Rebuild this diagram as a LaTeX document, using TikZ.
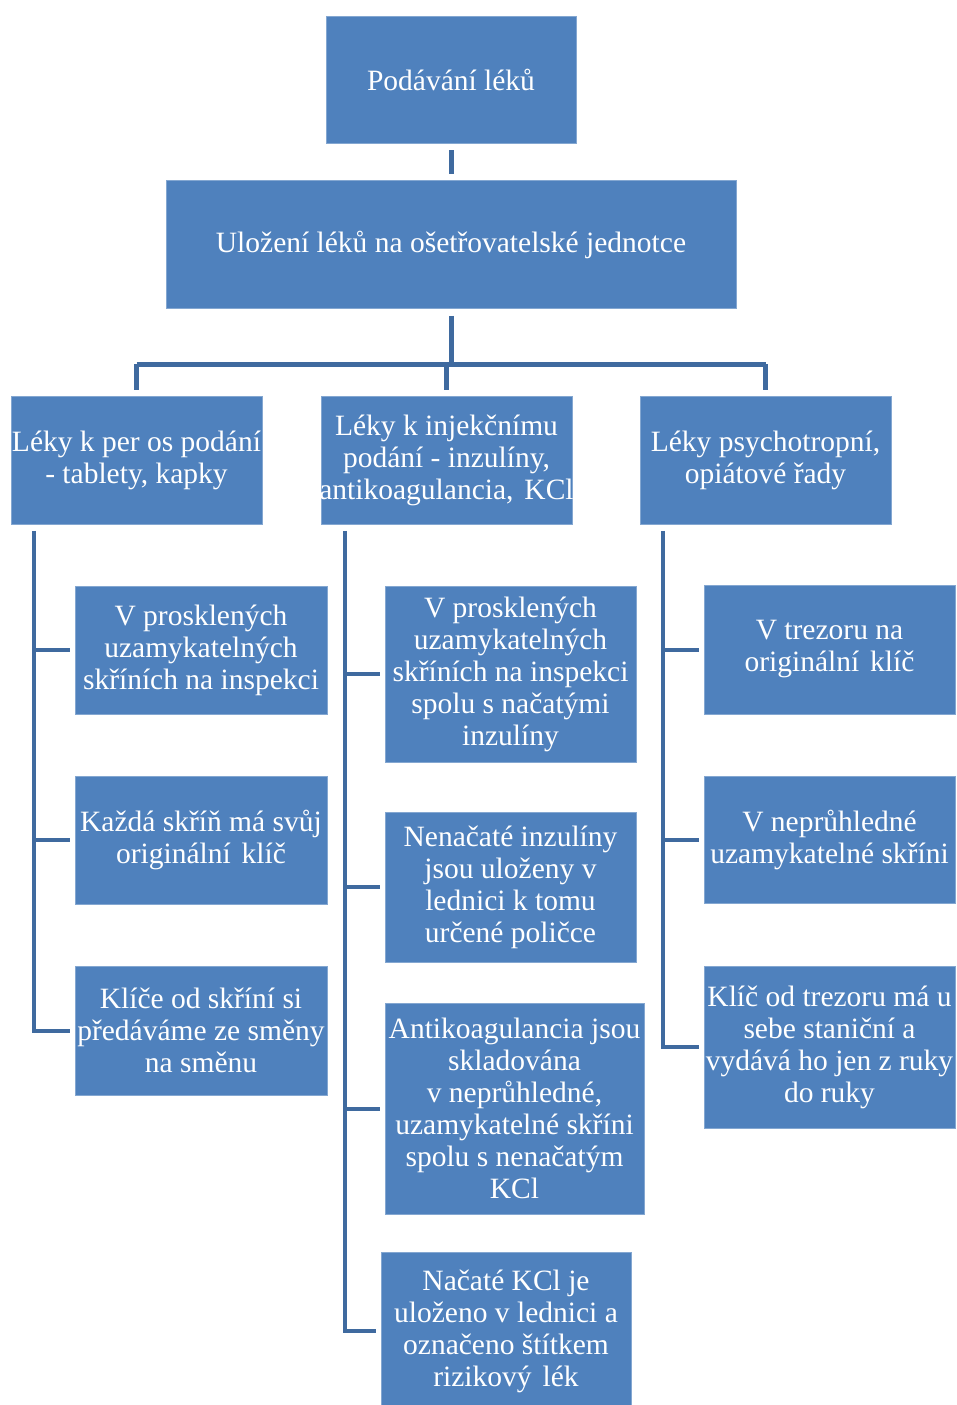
\documentclass[tikz,border=0pt]{standalone}
\usepackage{fontspec}
\setmainfont{Liberation Serif}
\definecolor{boxblue}{HTML}{4F81BD}
\definecolor{linkblue}{HTML}{3F6A9F}
% centre a line on its node without letting it widen the box
\newcommand\ctr[1]{\makebox[0pt]{#1}}
% slightly wider word gap
\newcommand\wsp{\ \hspace{0.12em}}
\tikzset{
  box/.style={rectangle, fill=boxblue, draw=boxblue!70!white, line width=0.8pt,
    inner sep=0pt, align=center, text=white,
    font=\fontsize{29.5}{32}\selectfont},
  trunk/.style={draw=linkblue, line width=5pt},
  twig/.style={draw=linkblue, line width=4pt, line join=miter},
}
\begin{document}
\begin{tikzpicture}[x=1pt, y=-1pt]
\fill[white] (0,0) rectangle (957,1405);
\useasboundingbox (0,0) rectangle (957,1405);
\begin{scope}
\clip (0,0) rectangle (957,1405);

% main levels
\node[box, minimum width=250, minimum height=127] (top) at (451,79.5) {\ctr{Podávání léků}};
\node[box, minimum width=570, minimum height=128] (unit) at (451,244.5) {\ctr{Uložení léků na ošetřovatelské jednotce}};

\node[box, minimum width=251, minimum height=128] (L) at (136.5,460.5)
  {\ctr{Léky k per os podání}\\\ctr{- tablety, kapky}};
\node[box, minimum width=251, minimum height=128] (M) at (446.5,460.5)
  {\ctr{Léky k injekčnímu}\\\ctr{podání - inzulíny,}\\\ctr{antikoagulancia,\wsp KCl}};
\node[box, minimum width=251, minimum height=128] (R) at (765.5,460.5)
  {\ctr{Léky psychotropní,}\\\ctr{opiátové řady}};

% left column
\node[box, minimum width=252, minimum height=128] (L1) at (201,650)
  {\ctr{V prosklených}\\\ctr{uzamykatelných}\\\ctr{skříních na inspekci}};
\node[box, minimum width=252, minimum height=128] (L2) at (201,840)
  {\ctr{Každá skříň má svůj}\\\ctr{originální\wsp klíč}};
\node[box, minimum width=252, minimum height=129] (L3) at (201,1030.5)
  {\ctr{Klíče od skříní si}\\\ctr{předáváme ze směny}\\\ctr{na směnu}};

% middle column
\node[box, minimum width=251, minimum height=176] (M1) at (510.5,674)
  {\ctr{V prosklených}\\\ctr{uzamykatelných}\\\ctr{skříních na inspekci}\\\ctr{spolu s načatými}\\\ctr{inzulíny}};
\node[box, minimum width=251, minimum height=150] (M2) at (510.5,887)
  {\ctr{Nenačaté inzulíny}\\\ctr{jsou uloženy v}\\\ctr{lednici k tomu}\\\ctr{určené poličce}};
\node[box, minimum width=259, minimum height=211] (M3) at (514.5,1108.5)
  {\ctr{Antikoagulancia jsou}\\\ctr{skladována}\\\ctr{v neprůhledné,}\\\ctr{uzamykatelné skříni}\\\ctr{spolu s nenačatým}\\\ctr{KCl}};
\node[box, minimum width=250, minimum height=158] (M4) at (506,1331)
  {\ctr{Načaté KCl je}\\\ctr{uloženo v lednici a}\\\ctr{označeno štítkem}\\\ctr{rizikový\wsp lék}};

% right column
\node[box, minimum width=251, minimum height=129] (R1) at (829.5,649.5)
  {\ctr{V trezoru na}\\\ctr{originální\wsp klíč}};
\node[box, minimum width=251, minimum height=127] (R2) at (829.5,839.5)
  {\ctr{V neprůhledné}\\\ctr{uzamykatelné skříni}};
\node[box, minimum width=251, minimum height=162] (R3) at (829.5,1047)
  {\ctr{Klíč od trezoru má u}\\\ctr{sebe staniční a}\\\ctr{vydává ho jen z ruky}\\\ctr{do ruky}};
\end{scope}

% upper tree
\coordinate (bar) at (451,364);
\draw[trunk, shorten <=7pt, shorten >=6pt] (top.south) -- (unit.north);
\draw[trunk, shorten <=7pt] (unit.south) -- (bar);
\draw[trunk] (L.north |- bar) -- (R.north |- bar);
\draw[trunk, shorten >=6pt] (L.north |- bar) -- (L.north);
\draw[trunk, shorten >=6pt] (M.north |- bar) -- (M.north);
\draw[trunk, shorten >=6pt] (R.north |- bar) -- (R.north);

% column spines
\coordinate (sL) at ([xshift=23.5pt,yshift=-6pt]L.south west);
\coordinate (sM) at ([xshift=24pt,yshift=-6pt]M.south west);
\coordinate (sR) at ([xshift=23pt,yshift=-6pt]R.south west);

\draw[twig] (sL) |- ([xshift=-5pt]L3.west);
\draw[twig] (sL |- L1.west) -- ([xshift=-5pt]L1.west);
\draw[twig] (sL |- L2.west) -- ([xshift=-5pt]L2.west);

\draw[twig] (sM) |- ([xshift=-5pt]M4.west);
\draw[twig] (sM |- M1.west) -- ([xshift=-5pt]M1.west);
\draw[twig] (sM |- M2.west) -- ([xshift=-5pt]M2.west);
\draw[twig] (sM |- M3.west) -- ([xshift=-5pt]M3.west);

\draw[twig] (sR) |- ([xshift=-5pt]R3.west);
\draw[twig] (sR |- R1.west) -- ([xshift=-5pt]R1.west);
\draw[twig] (sR |- R2.west) -- ([xshift=-5pt]R2.west);
\end{tikzpicture}
\end{document}
